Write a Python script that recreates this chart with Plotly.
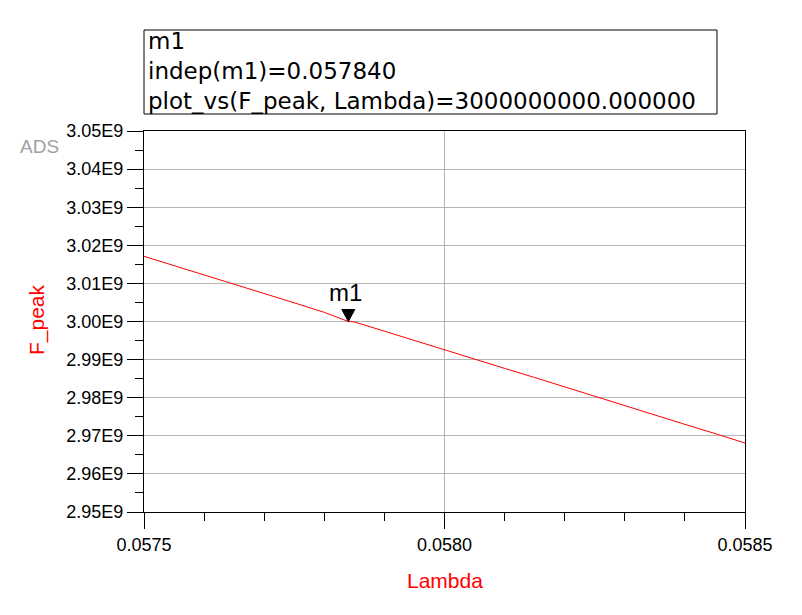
import plotly.graph_objects as go

# F_peak vs Lambda
lambda_vals = [0.05750, 0.05755, 0.05760, 0.05765, 0.05770, 0.05775, 0.05780, 0.05784,
               0.05785, 0.05790, 0.05795, 0.05800, 0.05805, 0.05810, 0.05815, 0.05820,
               0.05825, 0.05830, 0.05835, 0.05840, 0.05845, 0.05850]
f_peak_vals = [3.0171e9, 3.0147e9, 3.0122e9, 3.0098e9, 3.0073e9, 3.0049e9, 3.0024e9, 3.0000e9,
               2.9999e9, 2.9975e9, 2.9951e9, 2.9926e9, 2.9902e9, 2.9877e9, 2.9853e9, 2.9828e9,
               2.9804e9, 2.9779e9, 2.9755e9, 2.9730e9, 2.9706e9, 2.9681e9]

# marker m1
m1_x = 0.05784
m1_y = 3.0e9
m1_lines = ["m1", "indep(m1)=0.057840", "plot_vs(F_peak, Lambda)=3000000000.000000"]

x_ticks = [0.0575, 0.0580, 0.0585]
x_ticktext = ["0.0575", "0.0580", "0.0585"]
x_minor = [0.0576, 0.0577, 0.0578, 0.0579, 0.0581, 0.0582, 0.0583, 0.0584]
y_ticks = [2.95e9, 2.96e9, 2.97e9, 2.98e9, 2.99e9, 3.00e9, 3.01e9, 3.02e9, 3.03e9, 3.04e9, 3.05e9]
y_ticktext = ["2.95E9", "2.96E9", "2.97E9", "2.98E9", "2.99E9", "3.00E9",
              "3.01E9", "3.02E9", "3.03E9", "3.04E9", "3.05E9"]
y_minor = [2.955e9, 2.965e9, 2.975e9, 2.985e9, 2.995e9, 3.005e9, 3.015e9, 3.025e9, 3.035e9, 3.045e9]

FONT = "Liberation Sans, Arial, sans-serif"
BOX_FONT = "DejaVu Sans, sans-serif"

fig = go.Figure()
fig.add_trace(go.Scatter(x=lambda_vals, y=f_peak_vals, mode="lines",
                         line=dict(color="#ff0000", width=1), hoverinfo="skip"))

axis_style = dict(ticks="outside", ticklen=16, tickcolor="black", tickwidth=1,
                  showline=True, linecolor="black", linewidth=1, mirror=True,
                  showgrid=True, gridcolor="#b4b4b4", gridwidth=1, zeroline=False,
                  tickfont=dict(family=FONT, size=18, color="black"))
fig.update_xaxes(range=[0.0575, 0.0585], tickvals=x_ticks, ticktext=x_ticktext,
                 minor=dict(tickvals=x_minor, ticks="outside", ticklen=8,
                            tickcolor="black", showgrid=False), **axis_style)
fig.update_yaxes(range=[2.95e9, 3.05e9], tickvals=y_ticks, ticktext=y_ticktext,
                 minor=dict(tickvals=y_minor, ticks="outside", ticklen=8,
                            tickcolor="black", showgrid=False), **axis_style)

# marker triangle, tip on the data point
fig.add_shape(type="path", xref="x", yref="y", xsizemode="pixel", ysizemode="pixel",
              xanchor=m1_x, yanchor=m1_y, path="M -6.5,12 L 6.5,12 L 0,0 Z",
              fillcolor="black", line=dict(color="black", width=1))
fig.add_annotation(x=m1_x, y=m1_y, text="m1", showarrow=False, xshift=-3, yshift=29,
                   xanchor="center", yanchor="middle",
                   font=dict(family=FONT, size=24, color="black"))

# marker readout box
fig.add_shape(type="rect", xref="paper", yref="paper", x0=0.0, x1=0.9534, y0=1.0446, y1=1.2651,
              line=dict(color="black", width=1), fillcolor="white")
fig.add_annotation(xref="paper", yref="paper", x=0.003, y=1.1562, xanchor="left", yanchor="middle",
                   align="left", text="<br>".join(m1_lines), showarrow=False,
                   font=dict(family=BOX_FONT, size=23, color="black"))

fig.add_annotation(xref="paper", yref="paper", x=0.5, y=-0.1785, text="Lambda", showarrow=False,
                   xanchor="center", yanchor="middle",
                   font=dict(family=FONT, size=21, color="#ff0000"))
fig.add_annotation(xref="paper", yref="paper", x=-0.178, y=0.504, text="F_peak", showarrow=False,
                   xanchor="center", yanchor="middle", textangle=-90,
                   font=dict(family=FONT, size=21, color="#ff0000"))
fig.add_annotation(xref="paper", yref="paper", x=-0.1739, y=0.9593, text="ADS", showarrow=False,
                   xanchor="center", yanchor="middle",
                   font=dict(family=FONT, size=19, color="#a0a0a0"))

# page body adds 8px around the figure, so size and margins are 8px smaller
fig.update_layout(width=794, height=599, margin=dict(l=136, r=57, t=123, b=95),
                  paper_bgcolor="white", plot_bgcolor="white", showlegend=False)

fig.write_html("out.html")
